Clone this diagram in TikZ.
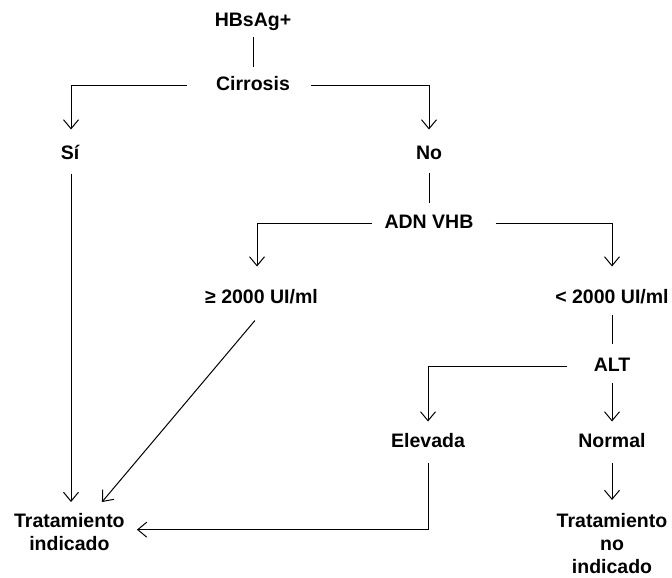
\documentclass[tikz,border=0pt]{standalone}
\usepackage{fontspec}
\setmainfont{Liberation Sans}
\usetikzlibrary{arrows.meta}

\begin{document}
\begin{tikzpicture}[
  x=1pt, y=-1pt,
  line width=1pt,
  lbl/.style={inner sep=0pt, text height=14pt, text depth=4pt,
              font=\fontsize{19.5}{23}\selectfont\bfseries},
  mlbl/.style={inner sep=0pt, align=center, anchor=north,
               font=\fontsize{19.5}{23}\selectfont\bfseries},
  arr/.style={-{Straight Barb[length=9pt,width=15pt]}},
]
% canvas
\fill[white] (0,0) rectangle (672,578);
\path[use as bounding box] (0,0) rectangle (672,578);

% labels
\node[lbl] (hbs)  at (253,22)    {HBsAg+};
\node[lbl] (cirr) at (253,85.5)  {Cirrosis};
\node[lbl] (si)   at (70,154)    {Sí};
\node[lbl] (no)   at (429,154)   {No};
\node[lbl] (adn)  at (429,223)   {ADN VHB};
\node[lbl] (ge)   at (261.5,298) {≥ 2000 UI/ml};
\node[lbl] (lt)   at (612,298)   {< 2000 UI/ml};
\node[lbl] (alt)  at (612,366)   {ALT};
\node[lbl] (elev) at (428,442)   {Elevada};
\node[lbl] (norm) at (612,442)   {Normal};
\node[mlbl] (ti)  at (69.4,513)  {Tratamiento\\indicado};
\node[mlbl] (tni) at (612,513)   {Tratamiento\\no\\indicado};

% connectors
\draw[shorten <=6pt, shorten >=8.5pt] (hbs.south) -- (cirr.north);
\draw[arr, shorten <=29pt, shorten >=15pt] (cirr.west) -| ([xshift=1pt]si.north);
\draw[arr, shorten <=21pt, shorten >=15pt] (cirr.east) -| (no.north);
\draw[arr, shorten <=10pt, shorten >=11pt] ([xshift=1pt]si.south) -- ([xshift=1pt]si.south |- ti.north);
\draw[shorten <=9pt, shorten >=11pt] (no.south) -- (adn.north);
\draw[arr, shorten <=11.6pt, shorten >=22pt] (adn.west) -| ([xshift=-4.5pt]ge.north);
\draw[arr, shorten <=21.6pt, shorten >=22pt] (adn.east) -| (lt.north);
\draw[arr, shorten <=17pt, shorten >=14.4pt] ([xshift=4.4pt]ge.south) -- ([xshift=23.3pt]ti.north);
\draw[shorten <=7pt, shorten >=13pt] (lt.south) -- (alt.north);
\draw[arr, shorten <=26pt, shorten >=11pt] (alt.west) -| (elev.north);
\draw[arr, shorten <=7pt, shorten >=11pt] (alt.south) -- (norm.north);
\draw[arr, shorten <=11pt, shorten >=11.8pt] (elev.south) |- ([yshift=2.5pt]ti.east);
\draw[arr, shorten <=11pt, shorten >=13pt] (norm.south) -- (tni.north);
\end{tikzpicture}
\end{document}
